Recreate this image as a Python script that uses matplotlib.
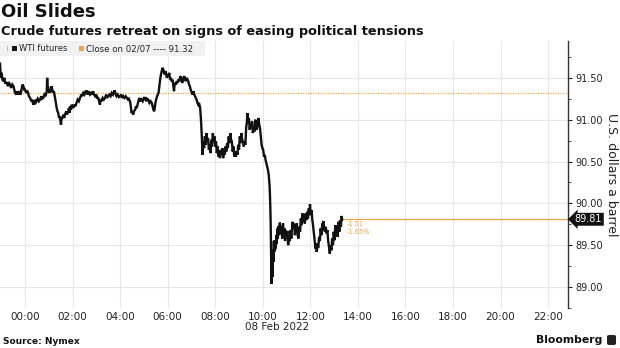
import matplotlib
matplotlib.use("Agg")
import matplotlib.pyplot as plt
import matplotlib.dates as mdates
from matplotlib.patches import Rectangle, FancyBboxPatch
from matplotlib.ticker import MultipleLocator
import pandas as pd

plt.rcParams['font.family'] = ['DejaVu Sans']

# ---------------- data ----------------
title = "Oil Slides"
subtitle = "Crude futures retreat on signs of easing political tensions"
series_name = "WTI futures"
close_label = "Close on 02/07"
prev_close = 91.32
change_abs = "-1.51"
change_pct = "-1.65%"
y_label = "U.S. dollars a barrel"
date_label = "08 Feb 2022"
source = "Source: Nymex"
brand = "Bloomberg"
base_day = "2022-02-08"

# minutes relative to 00:00 on 08 Feb 2022 (overnight session until the 07:26 drop)
minutes_overnight = [
    -63, -62, -61, -59, -57, -55, -52, -50, -46, -43,
    -41, -38, -35, -32, -29, -27, -25, -22, -20, -17,
    -14, -11, -8, -6, -4, -2, 0, 3, 5, 8,
    10, 13, 16, 18, 21, 23, 25, 27, 29, 32,
    35, 38, 41, 43, 46, 49, 52, 55, 56, 57,
    59, 61, 63, 65, 67, 69, 71, 73, 76, 78,
    80, 82, 84, 86, 88, 90, 91, 92, 94, 97,
    99, 101, 104, 106, 109, 111, 112, 114, 116, 118,
    120, 122, 125, 127, 130, 133, 136, 139, 142, 144,
    147, 150, 153, 156, 158, 160, 162, 164, 167, 170,
    172, 174, 177, 180, 182, 185, 187, 189, 191, 193,
    196, 199, 202, 205, 207, 210, 213, 216, 219, 222,
    225, 227, 229, 231, 234, 237, 240, 243, 245, 248,
    251, 254, 257, 260, 262, 265, 267, 269, 271, 273,
    275, 278, 280, 282, 284, 286, 289, 291, 294, 297,
    300, 303, 306, 308, 311, 314, 317, 320, 322, 324,
    326, 328, 329, 331, 332, 335, 337, 339, 341, 343,
    345, 347, 349, 351, 353, 355, 358, 360, 362, 364,
    366, 368, 370, 372, 374, 376, 377, 379, 381, 383,
    385, 387, 389, 391, 393, 395, 397, 400, 402, 404,
    406, 408, 410, 412, 414, 416, 418, 421, 423, 425,
    427, 429, 431, 433, 435, 437, 439, 442, 444,
]
prices_overnight = [
    91.67, 91.58, 91.50, 91.56, 91.48, 91.46, 91.50, 91.44, 91.44, 91.40,
    91.45, 91.42, 91.38, 91.42, 91.40, 91.36, 91.32, 91.30, 91.34, 91.30,
    91.34, 91.30, 91.38, 91.42, 91.40, 91.36, 91.36, 91.32, 91.35, 91.32,
    91.28, 91.26, 91.22, 91.24, 91.18, 91.21, 91.20, 91.24, 91.22, 91.25,
    91.22, 91.24, 91.28, 91.25, 91.26, 91.30, 91.28, 91.34, 91.50, 91.40,
    91.38, 91.32, 91.36, 91.33, 91.40, 91.36, 91.32, 91.34, 91.26, 91.20,
    91.14, 91.10, 91.08, 91.02, 91.04, 90.96, 90.94, 91.00, 91.02, 91.06,
    91.02, 91.06, 91.10, 91.06, 91.10, 91.14, 91.08, 91.16, 91.12, 91.18,
    91.16, 91.14, 91.18, 91.16, 91.20, 91.24, 91.22, 91.26, 91.30, 91.28,
    91.32, 91.30, 91.34, 91.34, 91.30, 91.34, 91.32, 91.30, 91.32, 91.30,
    91.34, 91.30, 91.28, 91.30, 91.26, 91.26, 91.22, 91.18, 91.24, 91.22,
    91.26, 91.24, 91.26, 91.30, 91.26, 91.28, 91.30, 91.28, 91.32, 91.30,
    91.34, 91.34, 91.30, 91.28, 91.30, 91.27, 91.28, 91.30, 91.26, 91.28,
    91.26, 91.28, 91.26, 91.24, 91.25, 91.22, 91.16, 91.08, 91.10, 91.06,
    91.10, 91.12, 91.16, 91.14, 91.18, 91.22, 91.26, 91.22, 91.24, 91.22,
    91.26, 91.26, 91.22, 91.25, 91.24, 91.20, 91.22, 91.20, 91.16, 91.12,
    91.10, 91.16, 91.20, 91.24, 91.26, 91.30, 91.32, 91.40, 91.48, 91.54,
    91.58, 91.62, 91.60, 91.56, 91.54, 91.58, 91.50, 91.54, 91.52, 91.56,
    91.48, 91.50, 91.46, 91.48, 91.42, 91.34, 91.40, 91.44, 91.42, 91.46,
    91.44, 91.48, 91.46, 91.50, 91.52, 91.46, 91.44, 91.50, 91.52, 91.48,
    91.46, 91.50, 91.48, 91.46, 91.42, 91.40, 91.36, 91.32, 91.30, 91.34,
    91.30, 91.28, 91.26, 91.24, 91.20, 91.18, 91.20, 91.14, 91.00,
]

# minutes relative to 00:00 on 08 Feb 2022 (after the 07:26 drop)
minutes_session = [
    446, 448, 450, 452, 454, 456, 458, 460, 462, 464, 466, 468, 470, 472, 474, 476,
    478, 480, 482, 484, 486, 488, 490, 492, 494, 496, 498, 500, 502, 504, 506, 508,
    510, 512, 514, 516, 518, 520, 522, 524, 526, 528, 530, 532, 534, 536, 538, 540,
    542, 544, 546, 548, 550, 552, 554, 556, 558, 560, 561, 563, 565, 567, 569, 571,
    573, 575, 577, 579, 581, 583, 585, 587, 589, 591, 593, 595, 597, 599, 601, 603,
    605, 607, 609, 611, 613, 615, 617, 618, 619, 620,
    622, 623, 624, 625, 626, 627, 628, 629, 630, 631, 633, 634, 635, 637, 638, 639,
    641, 643, 645, 647, 649, 651, 653, 655, 656, 658, 660, 662, 664, 666, 668, 670,
    672, 673, 675, 677, 679, 681, 683, 685, 686, 688, 690, 692, 694, 696, 698, 700,
    702, 704, 706, 708, 710, 712, 714, 716, 718, 719, 721, 723, 725, 727, 729, 731,
    733, 735, 736, 738, 740, 742, 744, 746, 748, 750, 752, 753, 755, 757, 759, 761,
    763, 765, 767, 769, 771, 773, 775, 777, 779, 781, 783, 785, 787, 789, 791, 793,
    795, 797, 799, 800,
]
prices_session = [
    90.82, 90.58, 90.74, 90.66, 90.80, 90.70, 90.84, 90.74, 90.78, 90.64, 90.70, 90.60,
    90.76, 90.68, 90.84, 90.74,
    90.80, 90.68, 90.74, 90.60, 90.68, 90.56, 90.62, 90.54, 90.64, 90.58, 90.66, 90.54,
    90.62, 90.58, 90.68, 90.62,
    90.72, 90.66, 90.80, 90.72, 90.84, 90.76, 90.74, 90.62, 90.68, 90.56, 90.62, 90.56,
    90.62, 90.58, 90.70, 90.64,
    90.80, 90.72, 90.84, 90.76, 90.74, 90.68, 90.74, 90.70, 90.90, 90.98, 91.08, 90.96,
    91.02, 90.88, 90.96, 90.90,
    90.98, 90.84, 90.92, 90.86, 91.00, 90.92, 90.88, 90.96, 91.02, 90.94, 90.90, 90.80,
    90.70, 90.66, 90.64, 90.56,
    90.58, 90.52, 90.48, 90.44, 90.40, 90.34, 90.22, 90.11, 89.95, 89.73,
    89.04, 89.30, 89.12, 89.21, 89.45, 89.30, 89.55, 89.42, 89.56, 89.45, 89.49, 89.62,
    89.52, 89.70, 89.58, 89.73,
    89.62, 89.77, 89.64, 89.72, 89.58, 89.76, 89.62, 89.70, 89.55, 89.68, 89.60, 89.67,
    89.50, 89.62, 89.55, 89.68,
    89.58, 89.66, 89.78, 89.70, 89.76, 89.62, 89.72, 89.66, 89.76, 89.62, 89.58, 89.72,
    89.66, 89.82, 89.74, 89.88,
    89.78, 89.86, 89.76, 89.88, 89.80, 89.90, 89.82, 89.94, 89.86, 89.99, 89.86, 89.92,
    89.80, 89.73, 89.64, 89.56,
    89.46, 89.52, 89.42, 89.50, 89.47, 89.60, 89.55, 89.70, 89.62, 89.76, 89.68, 89.79,
    89.70, 89.66, 89.72, 89.64,
    89.68, 89.55, 89.48, 89.40, 89.50, 89.44, 89.58, 89.50, 89.66, 89.56, 89.74, 89.62,
    89.70, 89.60, 89.78, 89.66,
    89.80, 89.72, 89.85, 89.81,
]
last_price = 89.81
y_ticks = [89.00, 89.50, 90.00, 90.50, 91.00, 91.50]

# ---------------- figure ----------------
W, H = 620, 348
fig = plt.figure(figsize=(W / 100, H / 100), dpi=100)
ax = fig.add_axes([0, 1 - 308 / H, 568 / W, (308 - 41) / H])

base = pd.Timestamp(base_day)
minutes = minutes_overnight + minutes_session
prices = prices_overnight + prices_session
times = base + pd.to_timedelta(minutes, unit="min")

orange = "#f2a43c"
ax.plot(times, prices, color="#111111", lw=1.7, solid_joinstyle="miter", zorder=3)

ax.axhline(prev_close, color=orange, lw=0.9, ls=(0, (1, 1)), zorder=2)
ax.plot([times[-1], base + pd.Timedelta(hours=24)], [last_price, last_price],
        color=orange, lw=0.9, zorder=2)

x0 = base - pd.Timedelta(minutes=63)
x1 = base + pd.Timedelta(hours=22, minutes=50)
ax.set_xlim(x0, x1)
ax.set_ylim(88.75, 91.94)

ax.xaxis.set_major_locator(mdates.HourLocator(byhour=range(0, 24, 2)))
ax.xaxis.set_major_formatter(mdates.DateFormatter("%H:%M"))
ax.set_yticks(y_ticks)
ax.set_yticklabels([f"{v:.2f}" for v in y_ticks])
ax.yaxis.set_minor_locator(MultipleLocator(0.25))
ax.yaxis.tick_right()

ax.grid(True, which="major", color="#e6e6e6", lw=0.8, zorder=0)
ax.set_axisbelow(True)
for s in ["left", "top", "bottom"]:
    ax.spines[s].set_visible(False)
ax.spines["right"].set_color("#333333")
ax.spines["right"].set_linewidth(1.0)

ax.tick_params(axis="x", length=0, pad=3, labelsize=7.5, colors="#222222")
ax.tick_params(axis="y", which="major", direction="out", length=3, width=0.8,
               pad=2, labelsize=7, colors="#222222")
ax.tick_params(axis="y", which="minor", direction="out", length=2, width=0.6,
               colors="#333333")

# y label on the right, reading top-to-bottom
fig.text(611 / W, 1 - 175 / H, y_label, rotation=-90, ha="center", va="center",
         fontsize=9, color="#222222")

# last price tag
ax.text(1.012, last_price, f"{last_price:.2f}", transform=ax.get_yaxis_transform(),
        ha="left", va="center", fontsize=7, color="white",
        bbox=dict(boxstyle="larrow,pad=0.15", fc="#111111", ec="none"))

# change annotation
ax.annotate(change_abs, xy=(times[-1], last_price), xytext=(3, -3.5),
            textcoords="offset points", fontsize=4.8, color=orange, va="center")
ax.annotate(change_pct, xy=(times[-1], last_price), xytext=(3, -9.5),
            textcoords="offset points", fontsize=4.8, color=orange, va="center")

# date label under the axis
fig.text(277 / W, 1 - 327 / H, date_label, ha="center", va="center",
         fontsize=7.5, color="#222222")

# titles
fig.text(1 / W, 1 - 12 / H, title, ha="left", va="center", fontsize=13,
         fontweight="bold", color="#111111")
fig.text(1 / W, 1 - 31 / H, subtitle, ha="left", va="center", fontsize=9.3,
         fontweight="bold", color="#111111")

# legend strip
fig.add_artist(Rectangle((0, 1 - 56 / H), 205 / W, 15 / H, transform=fig.transFigure,
                         fc="#f1f1f1", ec="none", zorder=5))
fig.add_artist(Rectangle((7 / W, 1 - 51 / H), 1 / W, 5 / H, transform=fig.transFigure,
                         fc="#bbbbbb", ec="none", zorder=6))
fig.add_artist(Rectangle((12 / W, 1 - 51 / H), 5 / W, 5 / H, transform=fig.transFigure,
                         fc="#111111", ec="none", zorder=6))
fig.add_artist(Rectangle((79 / W, 1 - 51 / H), 5 / W, 5 / H, transform=fig.transFigure,
                         fc=orange, ec="none", zorder=6))
fig.text(19 / W, 1 - 48.5 / H, series_name, ha="left", va="center", fontsize=6,
         color="#222222", zorder=7)
fig.text(86 / W, 1 - 48.5 / H, f"{close_label} ---- {prev_close:.2f}", ha="left",
         va="center", fontsize=6.2, color="#222222", zorder=7)

# footer
fig.text(3 / W, 1 - 341 / H, source, ha="left", va="center", fontsize=6.5,
         fontweight="bold", color="#111111")
fig.text(602 / W, 1 - 340 / H, brand, ha="right", va="center", fontsize=7.8,
         fontweight="bold", color="#111111")
fig.add_artist(FancyBboxPatch((607 / W, 1 - 345 / H), 9 / W, 10 / H,
                              boxstyle="round,pad=0,rounding_size=0.004",
                              transform=fig.transFigure, fc="#222222", ec="none"))

fig.savefig("out.png", dpi=100)
